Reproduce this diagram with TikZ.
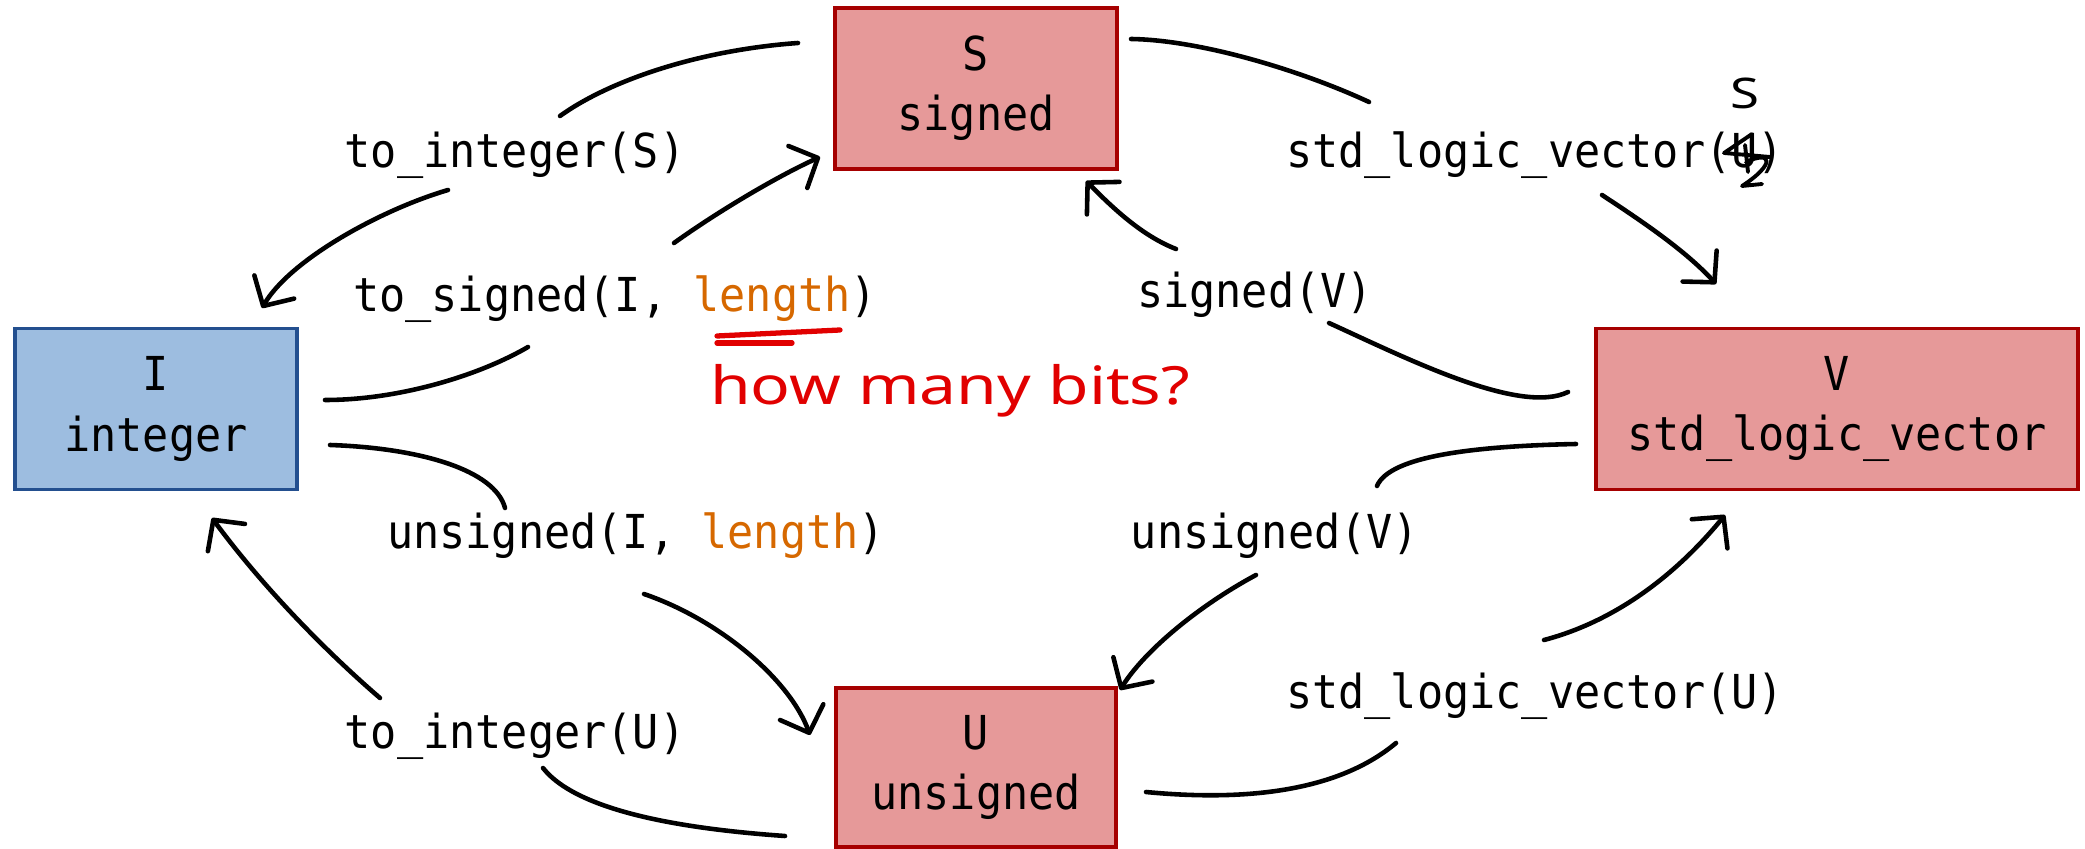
\documentclass[tikz,border=0pt]{standalone}
\usepackage{fontspec}
\usetikzlibrary{arrows.meta}
\newfontfamily\codefont[FakeStretch=0.93]{DejaVu Sans Mono}
\newfontfamily\handfont[FakeStretch=1.25]{Noto Sans}
\definecolor{redfill}{RGB}{230,153,153}
\definecolor{redline}{RGB}{166,0,0}
\definecolor{bluefill}{RGB}{157,189,224}
\definecolor{blueline}{RGB}{35,79,143}
\definecolor{lenorange}{RGB}{214,104,0}
\definecolor{handred}{RGB}{225,0,0}
\tikzset{
  typebox/.style={draw, line width=1.1pt, minimum height=1.61cm, inner sep=0pt, align=center,
    font=\codefont\fontsize{13.3}{17.1}\selectfont},
  redbox/.style={typebox, fill=redfill, draw=redline},
  bluebox/.style={typebox, fill=bluefill, draw=blueline},
  fnlabel/.style={anchor=base, inner sep=0pt, font=\codefont\fontsize{13.3}{17.1}\selectfont},
  conn/.style={line width=1.3pt, line cap=round, line join=round},
  arr/.style={conn, -{Straight Barb[length=2.2mm, width=4.6mm, round]}},
  hand/.style={text=handred, inner sep=0pt, anchor=base, font=\handfont\fontsize{15}{18}\selectfont},
  handline/.style={draw=handred, line width=1.5pt, line cap=round},
}
\begin{document}
\begin{tikzpicture}[x=0.01cm, y=-0.01cm]
\useasboundingbox (0,0) rectangle (2085,849);
% type boxes
\node[bluebox, minimum width=2.82cm] (I) at (156,409) {I\\integer};
\node[redbox, minimum width=2.82cm] (S) at (976,88.5) {S\\signed};
\node[redbox, minimum width=4.82cm] (V) at (1837,409) {V\\std\_logic\_vector};
\node[redbox, minimum width=2.80cm, minimum height=1.59cm] (U) at (976,767.5) {U\\unsigned};
% conversion labels
\node[fnlabel] (lSI) at (515,168) {to\_integer(S)};
\node[fnlabel] (lIS) at (615,312) {to\_signed(I, {\color{lenorange}length})};
\node[fnlabel] (lVS) at (1255,308) {signed(V)};
\node[fnlabel] (lSV) at (1535,168) {std\_logic\_vector(U)};
\node[fnlabel] (lIU) at (636,548) {unsigned(I, {\color{lenorange}length})};
\node[fnlabel] (lVU) at (1275,548) {unsigned(V)};
\node[fnlabel] (lUI) at (515,748) {to\_integer(U)};
\node[fnlabel] (lUV) at (1535,708) {std\_logic\_vector(U)};
% handwritten notes
\node[hand] (bits) at (950,405) {how many bits?};
\node[hand, font=\handfont\bfseries\fontsize{12}{14}\selectfont, text=black] (hS) at (1745,109) {S};
\draw[handline] (717,336) -- (840,330);
\draw[handline] (717,343) -- (792,343);
\draw[conn, line width=1.1pt] (1752,134) -- (1724,153) -- (1770,157)
  (1745,145) -- (1748,172)
  (1746,162) .. controls (1772,150) and (1776,164) .. (1742,186) -- (1762,184);
% connector end points
\coordinate (a1) at (798,43);   \coordinate (a2) at (560,116);
\coordinate (a3) at (448,190);  \coordinate (a4) at (262,308);
\coordinate (b1) at (325,400);  \coordinate (b2) at (528,347);
\coordinate (b3) at (674,243);  \coordinate (b4) at (820,157);
\coordinate (c1) at (1568,392); \coordinate (c2) at (1329,323);
\coordinate (c3) at (1176,249); \coordinate (c4) at (1086,181);
\coordinate (d1) at (1131,39);  \coordinate (d2) at (1369,102);
\coordinate (d3) at (1602,195); \coordinate (d4) at (1716,284);
\coordinate (e1) at (330,445);  \coordinate (e2) at (505,508);
\coordinate (e3) at (644,594);  \coordinate (e4) at (810,735);
\coordinate (f1) at (785,836);  \coordinate (f2) at (543,768);
\coordinate (f3) at (380,698);  \coordinate (f4) at (212,518);
\coordinate (g1) at (1576,444); \coordinate (g2) at (1377,486);
\coordinate (g3) at (1256,575); \coordinate (g4) at (1120,690);
\coordinate (h1) at (1146,792); \coordinate (h2) at (1396,743);
\coordinate (h3) at (1544,640); \coordinate (h4) at (1725,515);
% S -> I
\draw[conn] (a1) .. controls (700,50) and (610,80) .. (a2);
\draw[arr] (a3) .. controls (380,210) and (290,260) .. (a4);
% I -> S
\draw[conn] (b1) .. controls (400,400) and (480,375) .. (b2);
\draw[arr] (b3) .. controls (720,210) and (780,175) .. (b4);
% V -> S
\draw[conn] (c1) .. controls (1520,415) and (1410,360) .. (c2);
\draw[arr] (c3) .. controls (1140,235) and (1110,205) .. (c4);
% S -> V
\draw[conn] (d1) .. controls (1200,40) and (1300,70) .. (d2);
\draw[arr] (d3) .. controls (1640,220) and (1685,250) .. (d4);
% I -> U
\draw[conn] (e1) .. controls (420,448) and (495,470) .. (e2);
\draw[arr] (e3) .. controls (720,620) and (790,680) .. (e4);
% U -> I
\draw[conn] (f1) .. controls (700,830) and (580,815) .. (f2);
\draw[arr] (f3) .. controls (330,655) and (265,590) .. (f4);
% V -> U
\draw[conn] (g1) .. controls (1480,446) and (1390,455) .. (g2);
\draw[arr] (g3) .. controls (1200,605) and (1145,650) .. (g4);
% U -> V
\draw[conn] (h1) .. controls (1250,802) and (1340,790) .. (h2);
\draw[arr] (h3) .. controls (1620,620) and (1680,570) .. (h4);
\end{tikzpicture}
\end{document}
